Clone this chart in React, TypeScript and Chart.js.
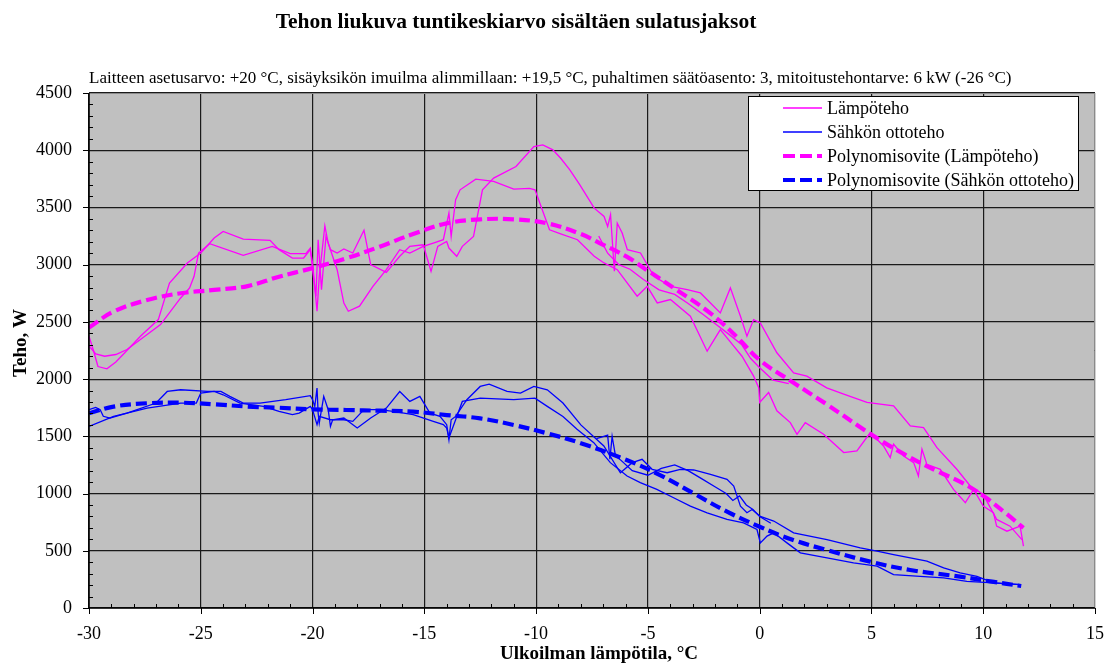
import { useEffect, useRef } from "react";
import { Chart, registerables } from "chart.js";

Chart.register(...registerables);

const TITLE = "Tehon liukuva tuntikeskiarvo sisältäen sulatusjaksot";
const SUBTITLE =
  "Laitteen asetusarvo: +20 °C, sisäyksikön imuilma alimmillaan: +19,5 °C, puhaltimen säätöasento: 3, mitoitustehontarve: 6 kW (-26 °C)";
const X_TITLE = "Ulkoilman lämpötila, °C";
const Y_TITLE = "Teho, W";
const LEGEND_LABELS = [
  "Lämpöteho",
  "Sähkön ottoteho",
  "Polynomisovite (Lämpöteho)",
  "Polynomisovite (Sähkön ottoteho)",
];

const X_MIN = -30;
const X_MAX = 15;
const X_STEP = 5;
const Y_MIN = 0;
const Y_MAX = 4500;
const Y_STEP = 500;

type Pt = [number, number];

// Lämpöteho – measured strands
const lampoA: Pt[] = [
  [-30, 2375], [-29.8, 2250], [-29.6, 2110], [-29.2, 2090], [-28.8, 2150], [-28.4, 2230],
  [-27.7, 2375], [-26.9, 2520], [-26.4, 2840], [-25.6, 3015], [-25.0, 3102], [-24.4, 3233],
  [-24.0, 3291], [-23.1, 3224], [-21.9, 3212], [-21.5, 3131], [-20.9, 3058], [-20.4, 3058],
  [-20.1, 3131], [-20.0, 3015], [-19.8, 2593], [-19.7, 2898], [-19.45, 3340], [-19.3, 3189],
  [-18.9, 2956], [-18.6, 2665], [-18.4, 2593], [-17.9, 2637], [-17.3, 2811], [-16.7, 2956],
  [-16.1, 3131], [-15.65, 3102], [-15.05, 3160], [-14.6, 3189], [-14.15, 3218], [-13.9, 3450],
  [-13.8, 3247], [-13.6, 3567], [-13.4, 3654], [-12.7, 3747], [-11.9, 3727], [-11.0, 3660],
  [-10.3, 3666], [-10.05, 3654], [-9.4, 3305], [-8.9, 3270], [-8.15, 3218], [-7.4, 3073],
  [-6.96, 3015], [-6.37, 2956], [-5.48, 2724], [-5.03, 2811], [-4.58, 2666], [-3.99, 2695],
  [-3.1, 2549], [-2.35, 2244], [-1.76, 2433], [-1.16, 2288], [-0.79, 2200], [-0.27, 2026],
  [-0.04, 1924], [0, 1796], [0.4, 1883], [0.77, 1723], [1.37, 1620], [1.67, 1518],
  [2.04, 1620], [2.86, 1518], [3.76, 1358], [4.35, 1372], [4.95, 1533], [5.54, 1416],
  [5.84, 1314], [5.99, 1431], [6.44, 1328], [6.89, 1270], [7.1, 1153], [7.26, 1387],
  [7.48, 1255], [8.08, 1212], [8.67, 1036], [9.2, 920], [9.57, 1036], [10.0, 890],
  [10.46, 832], [10.6, 715], [11.06, 671], [11.65, 715], [11.8, 540],
];
const lampoB: Pt[] = [
  [-30, 2290], [-29.7, 2220], [-29.3, 2200], [-28.8, 2215], [-28.3, 2259], [-26.8, 2477],
  [-25.9, 2709], [-25.5, 2797], [-25.3, 2898], [-25.1, 3102], [-24.6, 3183], [-23.1, 3081],
  [-21.8, 3160], [-21.0, 3096], [-20.3, 3096], [-20.1, 3145], [-20.0, 2956], [-19.85, 2724],
  [-19.75, 3218], [-19.6, 2782], [-19.4, 3247], [-19.2, 3131], [-18.9, 3102], [-18.6, 3137],
  [-18.2, 3102], [-17.7, 3300], [-17.4, 3000], [-16.7, 2933], [-16.1, 3073], [-15.65, 3160],
  [-15.05, 3174], [-14.7, 2942], [-14.4, 3160], [-14.0, 3203], [-13.9, 3145], [-13.55, 3073],
  [-13.3, 3160], [-12.8, 3247], [-12.4, 3654], [-11.9, 3756], [-10.9, 3858], [-10.1, 4032],
  [-9.7, 4047], [-9.25, 4003], [-8.9, 3930], [-8.5, 3830], [-8.05, 3700], [-7.4, 3494],
  [-6.96, 3421], [-6.8, 3334], [-6.67, 3436], [-6.5, 2942], [-6.37, 3363], [-6.15, 3276],
  [-5.92, 3131], [-5.33, 3102], [-4.73, 2898], [-3.99, 2811], [-3.24, 2782], [-2.65, 2753],
  [-1.76, 2578], [-1.31, 2797], [-0.86, 2549], [-0.57, 2375], [-0.27, 2520], [0.03, 2491],
  [0.77, 2230], [1.52, 2055], [2.11, 2026], [3.0, 1924], [3.76, 1869], [4.8, 1796],
  [5.99, 1766], [6.74, 1591], [7.33, 1577], [7.93, 1401], [8.82, 1212], [9.42, 1066],
  [10.0, 993], [10.6, 774], [11.2, 715], [11.73, 598],
];
const lampoC: Pt[] = [
  [-7.2, 3250], [-6.8, 3100], [-6.3, 3000], [-5.8, 2960], [-5.2, 2870], [-4.5, 2780],
  [-3.8, 2740], [-3.2, 2660], [-2.5, 2560], [-1.9, 2470], [-1.3, 2380], [-0.8, 2300],
  [-0.4, 2180], [0.0, 2100], [0.6, 1990], [1.3, 1960],
];

// Sähkön ottoteho – measured strands
const sahkoA: Pt[] = [
  [-30, 1733], [-29.7, 1753], [-29.5, 1733], [-29.36, 1675], [-29.06, 1660], [-28.3, 1703],
  [-27.0, 1791], [-26.5, 1892], [-25.9, 1907], [-24.7, 1892], [-24.1, 1892], [-23.7, 1849],
  [-23.1, 1791], [-22.35, 1791], [-21.2, 1820], [-20.1, 1855], [-20.0, 1820], [-19.9, 1762],
  [-19.8, 1922], [-19.75, 1703], [-19.7, 1616], [-19.5, 1849], [-19.3, 1733], [-19.2, 1587],
  [-19.1, 1645], [-18.6, 1660], [-18.0, 1573], [-17.4, 1660], [-16.7, 1747], [-16.1, 1892],
  [-15.65, 1805], [-15.2, 1849], [-14.75, 1703], [-14.3, 1674], [-14.0, 1602], [-13.9, 1471],
  [-13.8, 1645], [-13.6, 1674], [-13.1, 1820], [-12.5, 1936], [-12.1, 1956], [-11.3, 1892],
  [-10.7, 1878], [-10.1, 1936], [-9.5, 1907], [-8.8, 1791], [-8.0, 1600], [-6.97, 1416],
  [-6.23, 1182], [-5.7, 1270], [-5.26, 1299], [-4.81, 1212], [-4.14, 1182], [-3.55, 1212],
  [-2.95, 1206], [-2.2, 1168], [-1.46, 1124], [-1.16, 1066], [-0.86, 890], [-0.57, 832],
  [-0.34, 861], [0.03, 800], [0.63, 760], [1.52, 657], [3.01, 598], [4.5, 525],
  [5.25, 496], [5.99, 467], [7.48, 409], [8.23, 350], [8.97, 306], [9.72, 277],
  [10.46, 219], [11.65, 204],
];
const sahkoB: Pt[] = [
  [-30, 1587], [-28.9, 1674], [-27.4, 1747], [-25.9, 1791], [-25.2, 1791], [-25.0, 1878],
  [-24.4, 1892], [-24.0, 1863], [-23.25, 1791], [-22.2, 1762], [-21.5, 1718], [-20.9, 1689],
  [-20.6, 1703], [-20.1, 1762], [-20.0, 1733], [-19.8, 1602], [-19.7, 1674], [-19.2, 1645],
  [-18.6, 1645], [-18.2, 1631], [-17.7, 1733], [-17.0, 1733], [-16.4, 1718], [-15.5, 1689],
  [-14.6, 1631], [-14.15, 1602], [-14.0, 1573], [-13.9, 1485], [-13.6, 1645], [-13.3, 1805],
  [-12.5, 1834], [-11.0, 1820], [-10.05, 1834], [-9.5, 1762], [-8.8, 1674], [-8.17, 1562],
  [-7.42, 1445], [-6.68, 1270], [-5.93, 1153], [-5.34, 1095], [-4.6, 1036], [-3.85, 963],
  [-3.1, 890], [-2.35, 832], [-1.46, 774], [-0.72, 744], [-0.12, 686], [0.03, 569],
  [0.33, 628], [0.63, 657], [1.22, 569], [1.82, 482], [3.01, 438], [4.2, 394],
  [5.25, 365], [5.99, 292], [7.18, 277], [8.23, 263], [9.27, 233], [10.46, 219],
  [11.65, 204],
];
const sahkoC: Pt[] = [
  [-7.3, 1480], [-6.97, 1500], [-6.8, 1510], [-6.7, 1300], [-6.6, 1500], [-6.45, 1330],
  [-6.2, 1290], [-5.7, 1200], [-5.0, 1160], [-4.4, 1220], [-3.8, 1250], [-3.2, 1200],
  [-2.6, 1130], [-2.0, 1060], [-1.5, 1000], [-1.2, 940], [-0.9, 980], [-0.6, 900],
  [-0.3, 860], [0.0, 800], [0.5, 740],
];

// Polynomial trend lines
const lampoFit: Pt[] = [
  [-30, 2450], [-28.9, 2590], [-27.4, 2691], [-25.9, 2750], [-24.4, 2779], [-22.9, 2813],
  [-21.5, 2895], [-20, 2970], [-18.5, 3055], [-17, 3157], [-15.5, 3268], [-14, 3361],
  [-12.5, 3396], [-11, 3396], [-9.5, 3361], [-8.0, 3268], [-7.14, 3187], [-5.95, 3070],
  [-5.05, 2953], [-3.71, 2779], [-2.2, 2575], [-1.03, 2371], [0, 2167], [1.5, 1970],
  [3.0, 1780], [5.0, 1515], [6.5, 1340], [8.0, 1190], [9.0, 1100], [10.0, 980],
  [11.0, 830], [11.8, 700],
];
const sahkoFit: Pt[] = [
  [-30, 1701], [-28.9, 1760], [-27.4, 1789], [-25.9, 1794], [-24.4, 1780], [-22.9, 1760],
  [-21.5, 1750], [-20, 1736], [-18.5, 1730], [-17, 1724], [-15.5, 1716], [-14, 1686],
  [-12.5, 1657], [-11, 1599], [-9.5, 1526], [-8.0, 1440], [-5.95, 1293], [-4.46, 1162],
  [-2.96, 1002], [-1.46, 842], [0, 710], [1.5, 594], [3.0, 507], [4.94, 405],
  [6.73, 332], [8.96, 274], [10.4, 230], [11.7, 192],
];

const PINK = "#FF00FF";
const BLUE = "#0000FF";
const FONT = '"Liberation Serif", "Times New Roman", serif';

const toXY = (pts: Pt[]) => pts.map(([x, y]) => ({ x, y }));

const rawDs = (pts: Pt[], color: string) => ({
  data: toXY(pts),
  borderColor: color,
  borderWidth: 1.3,
  pointRadius: 0,
  showLine: true,
  tension: 0,
  fill: false,
});
const fitDs = (pts: Pt[], color: string) => ({
  data: toXY(pts),
  borderColor: color,
  borderWidth: 4.2,
  borderDash: [11, 5],
  pointRadius: 0,
  showLine: true,
  tension: 0.4,
  fill: false,
});

const decor = {
  id: "decor",
  beforeDraw(chart: any) {
    const { ctx, chartArea: a } = chart;
    ctx.save();
    ctx.fillStyle = "#ffffff";
    ctx.fillRect(0, 0, chart.width, chart.height);
    ctx.fillStyle = "#C0C0C0";
    ctx.fillRect(a.left, a.top, a.right - a.left, a.bottom - a.top);
    ctx.restore();
  },
  afterDraw(chart: any) {
    const { ctx, chartArea: a } = chart;
    const xs = chart.scales.x;
    const ys = chart.scales.y;
    const line = (x1: number, y1: number, x2: number, y2: number) => {
      ctx.beginPath();
      ctx.moveTo(x1, y1);
      ctx.lineTo(x2, y2);
      ctx.stroke();
    };
    ctx.save();
    // plot border
    ctx.strokeStyle = "#8a8a8a";
    ctx.lineWidth = 1;
    line(a.left, a.top + 0.5, a.right, a.top + 0.5);
    line(a.right - 0.5, a.top, a.right - 0.5, a.bottom);
    // axes
    ctx.strokeStyle = "#000";
    ctx.lineWidth = 1.5;
    line(a.left, a.top, a.left, a.bottom);
    line(a.left, a.bottom, a.right, a.bottom);
    ctx.lineWidth = 1;
    for (let v = Y_MIN; v <= Y_MAX; v += Y_STEP / 5) {
      const py = Math.round(ys.getPixelForValue(v)) + 0.5;
      if (v % Y_STEP === 0) line(a.left - 6, py, a.left, py);
      else line(a.left, py, a.left + 4, py);
    }
    for (let v = X_MIN; v <= X_MAX; v += 1) {
      const px = Math.round(xs.getPixelForValue(v)) + 0.5;
      if (v % X_STEP === 0) line(px, a.bottom, px, a.bottom + 6);
      else line(px, a.bottom, px, a.bottom - 4);
    }

    // legend
    const lx = 748.5;
    const ly = 96.5;
    const lw = 330;
    const lh = 94;
    ctx.fillStyle = "#fff";
    ctx.fillRect(lx, ly, lw, lh);
    ctx.strokeStyle = "#000";
    ctx.lineWidth = 1;
    ctx.strokeRect(lx, ly, lw, lh);
    const rows = [108, 132, 156, 180];
    const colors = [PINK, BLUE, PINK, BLUE];
    ctx.font = `18px ${FONT}`;
    ctx.textBaseline = "middle";
    ctx.textAlign = "left";
    rows.forEach((ry, i) => {
      ctx.strokeStyle = colors[i];
      if (i < 2) {
        ctx.lineWidth = 1.3;
        ctx.setLineDash([]);
      } else {
        ctx.lineWidth = 4.2;
        ctx.setLineDash([12, 5]);
      }
      line(783, ry, 822, ry);
      ctx.setLineDash([]);
      ctx.fillStyle = "#000";
      ctx.fillText(LEGEND_LABELS[i], 827, ry + 1);
    });

    // titles
    ctx.fillStyle = "#000";
    ctx.textBaseline = "alphabetic";
    ctx.textAlign = "center";
    ctx.font = `bold 21.5px ${FONT}`;
    ctx.fillText(TITLE, 516, 28);
    ctx.textAlign = "left";
    ctx.font = `17px ${FONT}`;
    ctx.fillText(SUBTITLE, 89, 83);
    ctx.textAlign = "center";
    ctx.font = `bold 19px ${FONT}`;
    ctx.fillText(X_TITLE, 599, 659);
    ctx.save();
    ctx.translate(26, 343);
    ctx.rotate(-Math.PI / 2);
    ctx.fillText(Y_TITLE, 0, 0);
    ctx.restore();
    ctx.restore();
  },
};

export default function App() {
  const ref = useRef<HTMLCanvasElement | null>(null);
  useEffect(() => {
    if (!ref.current) return;
    Chart.defaults.font.family = FONT;
    const chart = new Chart(ref.current, {
      type: "scatter",
      data: {
        datasets: [
          fitDs(lampoFit, PINK),
          fitDs(sahkoFit, BLUE),
          rawDs(lampoA, PINK),
          rawDs(lampoB, PINK),
          rawDs(lampoC, PINK),
          rawDs(sahkoA, BLUE),
          rawDs(sahkoB, BLUE),
          rawDs(sahkoC, BLUE),
        ] as any,
      },
      options: {
        animation: false,
        responsive: false,
        devicePixelRatio: 1,
        layout: { padding: { top: 93, right: 0, left: 0, bottom: 0 } },
        plugins: {
          legend: { display: false },
          title: { display: false },
          tooltip: { enabled: false },
        },
        scales: {
          x: {
            type: "linear",
            min: X_MIN,
            max: X_MAX,
            afterFit: (s: any) => {
              s.height = 58;
              s.paddingRight = 12;
              s.paddingLeft = 0;
            },
            ticks: {
              stepSize: X_STEP,
              color: "#000",
              font: { size: 18, family: FONT },
              padding: 15,
              maxRotation: 0,
              callback: (v: any) => String(v),
            },
            grid: { color: "#1a1a1a", lineWidth: 1.2, drawTicks: false },
            border: { display: false },
          },
          y: {
            type: "linear",
            min: Y_MIN,
            max: Y_MAX,
            afterFit: (s: any) => {
              s.width = 89;
            },
            ticks: {
              stepSize: Y_STEP,
              color: "#000",
              font: { size: 18, family: FONT },
              padding: 17,
              callback: (v: any) => String(v),
            },
            grid: { color: "#1a1a1a", lineWidth: 1.2, drawTicks: false },
            border: { display: false },
          },
        },
      },
      plugins: [decor],
    });
    return () => chart.destroy();
  }, []);
  return (
    <div style={{ position: "absolute", left: 0, top: 0, width: 1107, height: 666 }}>
      <canvas ref={ref} width={1107} height={666} style={{ display: "block" }} />
    </div>
  );
}
